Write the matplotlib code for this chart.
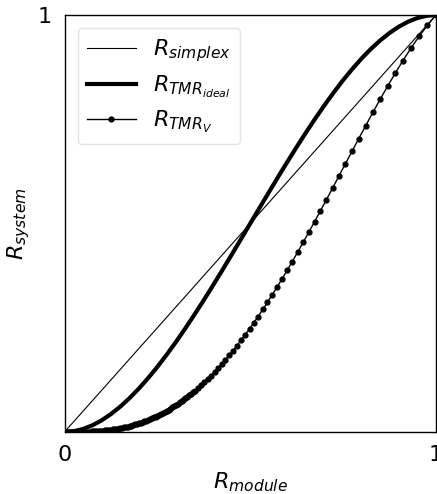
import matplotlib
matplotlib.use("Agg")
import matplotlib.pyplot as plt

# R_simplex
simplex_x = [0.0, 1.0]
simplex_y = [0.0, 1.0]

# R_TMR_ideal
ideal_x = [0.0, 0.025, 0.05, 0.075, 0.1, 0.125, 0.15, 0.175, 0.2, 0.225, 0.25,
           0.275, 0.3, 0.325, 0.35, 0.375, 0.4, 0.425, 0.45, 0.475, 0.5,
           0.525, 0.55, 0.575, 0.6, 0.625, 0.65, 0.675, 0.7, 0.725, 0.75,
           0.775, 0.8, 0.825, 0.85, 0.875, 0.9, 0.925, 0.95, 0.975, 1.0]
ideal_y = [0.0, 0.0018, 0.0073, 0.0160, 0.028, 0.0430, 0.0608, 0.0812, 0.104, 0.1291, 0.1563,
           0.1853, 0.216, 0.2482, 0.2818, 0.3164, 0.352, 0.3883, 0.4253, 0.4625, 0.5,
           0.5375, 0.5747, 0.6117, 0.648, 0.6836, 0.7182, 0.7518, 0.784, 0.8147, 0.8438,
           0.8709, 0.896, 0.9188, 0.9392, 0.9570, 0.972, 0.9840, 0.9927, 0.9982, 1.0]

# R_TMR_V
tmrv_x = [1.0, 0.977, 0.955, 0.933, 0.911, 0.890, 0.870, 0.850, 0.830, 0.811,
          0.792, 0.774, 0.756, 0.739, 0.722, 0.705, 0.689, 0.673, 0.658, 0.643,
          0.628, 0.613, 0.599, 0.586, 0.572, 0.559, 0.546, 0.534, 0.521, 0.509,
          0.498, 0.486, 0.475, 0.464, 0.453, 0.443, 0.433, 0.423, 0.413, 0.404,
          0.394, 0.385, 0.376, 0.368, 0.359, 0.351,
          0.345, 0.34, 0.335, 0.33, 0.325, 0.32, 0.315, 0.31, 0.305, 0.30,
          0.295, 0.29, 0.285, 0.28, 0.275, 0.27, 0.265, 0.26, 0.255, 0.25,
          0.245, 0.24, 0.235, 0.23, 0.225, 0.22, 0.215, 0.21, 0.205, 0.20,
          0.195, 0.19, 0.185, 0.18, 0.175, 0.17, 0.165, 0.16, 0.155, 0.15,
          0.145, 0.14, 0.135, 0.13, 0.125, 0.12, 0.115, 0.11, 0.105, 0.10,
          0.095, 0.09, 0.085, 0.08, 0.075, 0.07, 0.065, 0.06, 0.055, 0.05,
          0.045, 0.04, 0.035, 0.03, 0.025, 0.02, 0.015, 0.01, 0.005, 0.0]
tmrv_y = [1.0, 0.9755, 0.9494, 0.9210, 0.8906, 0.8601, 0.8297, 0.7984, 0.7662, 0.7350,
          0.7035, 0.6733, 0.6429, 0.6143, 0.5856, 0.5571, 0.5305, 0.5042, 0.4798, 0.4557,
          0.4319, 0.4086, 0.3873, 0.3678, 0.3473, 0.3287, 0.3106, 0.2942, 0.2769, 0.2614,
          0.2475, 0.2328, 0.2197, 0.2070, 0.1947, 0.1838, 0.1732, 0.1630, 0.1531, 0.1445,
          0.1353, 0.1273, 0.1195, 0.1128, 0.1056, 0.0994,
          0.0949, 0.0912, 0.0876, 0.0841, 0.0807, 0.0773, 0.0741, 0.0709, 0.0678, 0.0648,
          0.0619, 0.0590, 0.0563, 0.0536, 0.0510, 0.0484, 0.0460, 0.0436, 0.0413, 0.0391,
          0.0369, 0.0348, 0.0328, 0.0309, 0.0290, 0.0273, 0.0255, 0.0239, 0.0223, 0.0208,
          0.0194, 0.0180, 0.0167, 0.0154, 0.0142, 0.0131, 0.0120, 0.0110, 0.0100, 0.0091,
          0.0083, 0.0075, 0.0067, 0.0060, 0.0054, 0.0048, 0.0042, 0.0037, 0.0032, 0.0028,
          0.0024, 0.0021, 0.0017, 0.0015, 0.0012, 0.0010, 0.0008, 0.0006, 0.0005, 0.0004,
          0.0003, 0.0002, 0.0001, 0.0001, 0.0, 0.0, 0.0, 0.0, 0.0, 0.0]

x_ticks = [0, 1]
y_ticks = [1]

fig = plt.figure(figsize=(4.37, 4.94), dpi=100)
W, H = 437, 494
ax = fig.add_axes([64.5 / W, (H - 432) / H, 371.5 / W, 417 / H])

ax.plot(simplex_x, simplex_y, color="black", lw=0.8, label=r"$R_{simplex}$")
ax.plot(ideal_x, ideal_y, color="black", lw=3.0, label=r"$R_{TMR_{ideal}}$")
ax.plot(tmrv_x, tmrv_y, color="black", lw=1.0, marker="o", markersize=3.5,
        label=r"$R_{TMR_V}$")

ax.set_xlim(0, 1)
ax.set_ylim(0, 1)
ax.set_xticks(x_ticks)
ax.set_yticks(y_ticks)
ax.tick_params(length=0, labelsize=16, pad=9)
for s in ax.spines.values():
    s.set_linewidth(1.0)
    s.set_color("black")

ax.set_xlabel(r"$R_{module}$", fontsize=16, labelpad=4)
ax.set_ylabel(r"$R_{system}$", fontsize=16, labelpad=4)

ax.legend(loc="upper left", fontsize=16, handlelength=2.2, labelspacing=0.43,
          frameon=True, fancybox=True, edgecolor="#dddddd", borderaxespad=0.6)

fig.savefig("out.png", dpi=100)
